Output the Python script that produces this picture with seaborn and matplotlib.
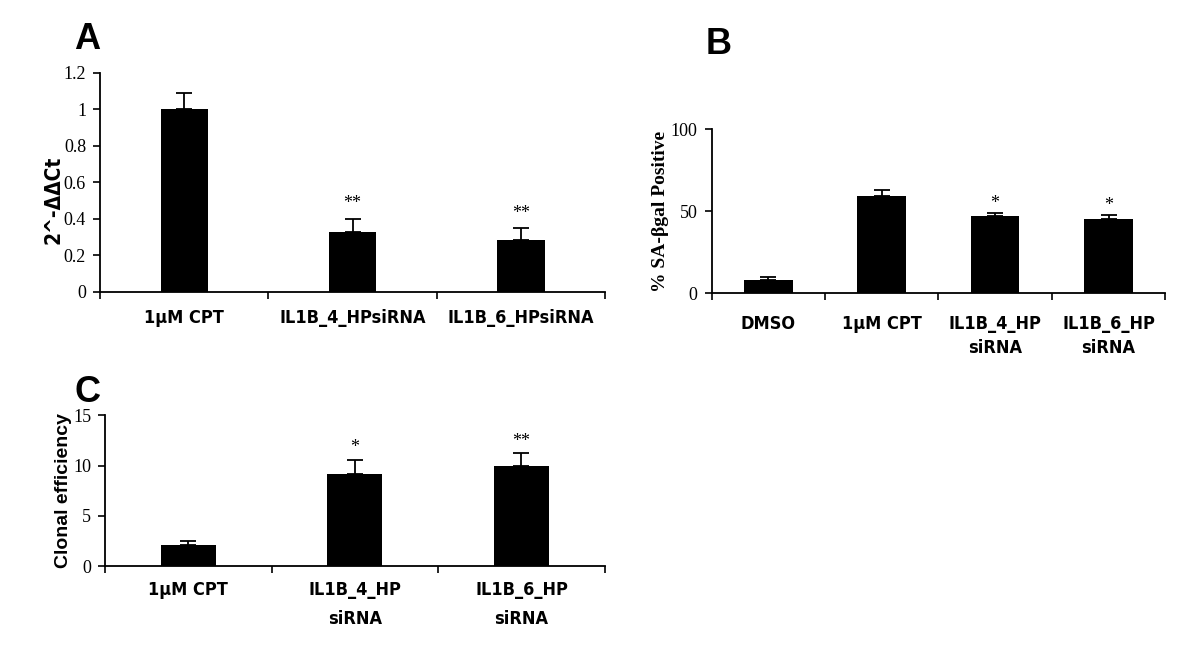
import matplotlib
matplotlib.use("Agg")
import matplotlib.pyplot as plt
import numpy as np
import seaborn as sns
import pandas as pd

# Panel A: qPCR
a_labels = ["1µM CPT", "IL1B_4_HPsiRNA", "IL1B_6_HPsiRNA"]
a_values = [1.0, 0.33, 0.285]
a_errors = [0.09, 0.07, 0.065]
a_stars = ["", "**", "**"]

# Panel B: SA-beta-gal
b_labels = ["DMSO", "1µM CPT", "IL1B_4_HP\nsiRNA", "IL1B_6_HP\nsiRNA"]
b_values = [8, 59, 47, 45]
b_errors = [2, 4, 2, 3]
b_stars = ["", "", "*", "*"]

# Panel C: clonal efficiency
c_labels = ["1µM CPT", "IL1B_4_HP\nsiRNA", "IL1B_6_HP\nsiRNA"]
c_values = [2.1, 9.2, 10.0]
c_errors = [0.4, 1.4, 1.2]
c_stars = ["", "*", "**"]

sns.set_style("ticks")
plt.rcParams['font.family'] = ['Liberation Sans', 'DejaVu Sans']
for k in ["text.color", "axes.labelcolor", "xtick.color", "ytick.color", "axes.edgecolor"]:
    plt.rcParams[k] = "black"

fig = plt.figure(figsize=(12, 6.56), dpi=100)


def panel(rect, labels, values, errors, stars, width, ylim, yticks, ytlabels,
          ylabel, ylabel_font, ylabel_size, star_gap, pad, linesp):
    ax = fig.add_axes(rect)
    df = pd.DataFrame({"cat": labels, "val": values})
    sns.barplot(data=df, x="cat", y="val", color="black", width=width,
                edgecolor="black", linewidth=0, errorbar=None, ax=ax, zorder=2)
    pos = np.arange(len(labels))
    ax.errorbar(pos, values, yerr=[np.zeros(len(errors)), errors], fmt="none",
                ecolor="black", elinewidth=1.3, capsize=6, capthick=1.3, zorder=3)
    for p, v, e, s in zip(pos, values, errors, stars):
        if s:
            ax.text(p, v + e + star_gap, s, ha="center", va="bottom",
                    fontsize=13, family=["Liberation Serif"])
    ax.set_xlim(-0.5, len(labels) - 0.5)
    ax.set_ylim(*ylim)
    ax.set_yticks(yticks)
    ax.set_yticklabels(ytlabels, family=["Liberation Serif"], fontsize=13)
    ax.set_xticks(pos)
    ax.set_xticklabels(labels, fontsize=13, fontweight="bold", linespacing=linesp,
                       family=["DejaVu Sans"], fontstretch="condensed")
    ax.tick_params(axis="x", which="major", length=0, pad=pad)
    ax.set_xticks(np.arange(len(labels) + 1) - 0.5, minor=True)
    ax.tick_params(axis="x", which="minor", length=5, width=1.2, direction="out")
    ax.tick_params(axis="y", length=5, width=1.2, direction="out", pad=5)
    ax.set_xlabel("")
    ax.set_ylabel(ylabel, fontsize=ylabel_size, fontweight="bold",
                  family=[ylabel_font], labelpad=1)
    for side in ["top", "right"]:
        ax.spines[side].set_visible(False)
    for side in ["left", "bottom"]:
        ax.spines[side].set_linewidth(1.3)
    return ax


ax_a = panel([0.0833, 0.555, 0.421, 0.334], a_labels, a_values, a_errors, a_stars,
             0.28, (0, 1.2), [0, 0.2, 0.4, 0.6, 0.8, 1.0, 1.2],
             ["0", "0.2", "0.4", "0.6", "0.8", "1", "1.2"],
             "2^-ΔΔCt", "DejaVu Sans", 15, 0.035, 12, 1.2)
ax_a.yaxis.label.set_fontstretch("condensed")
ax_a.yaxis.set_label_coords(-0.072, 0.42)

ax_b = panel([0.593, 0.553, 0.378, 0.25], b_labels, b_values, b_errors, b_stars,
             0.43, (0, 100), [0, 50, 100], ["0", "50", "100"],
             "% SA-βgal Positive", "Liberation Serif", 14, 0.3, 16, 1.4)

ax_c = panel([0.0875, 0.137, 0.4165, 0.23], c_labels, c_values, c_errors, c_stars,
             0.33, (0, 15), [0, 5, 10, 15], ["0", "5", "10", "15"],
             "Clonal efficiency", "Liberation Sans", 14, 0.3, 11, 1.75)

fig.text(0.062, 0.925, "A", fontsize=26, fontweight="bold")
fig.text(0.588, 0.918, "B", fontsize=26, fontweight="bold")
fig.text(0.062, 0.387, "C", fontsize=26, fontweight="bold")

fig.savefig("out.png", dpi=100, facecolor="white")
